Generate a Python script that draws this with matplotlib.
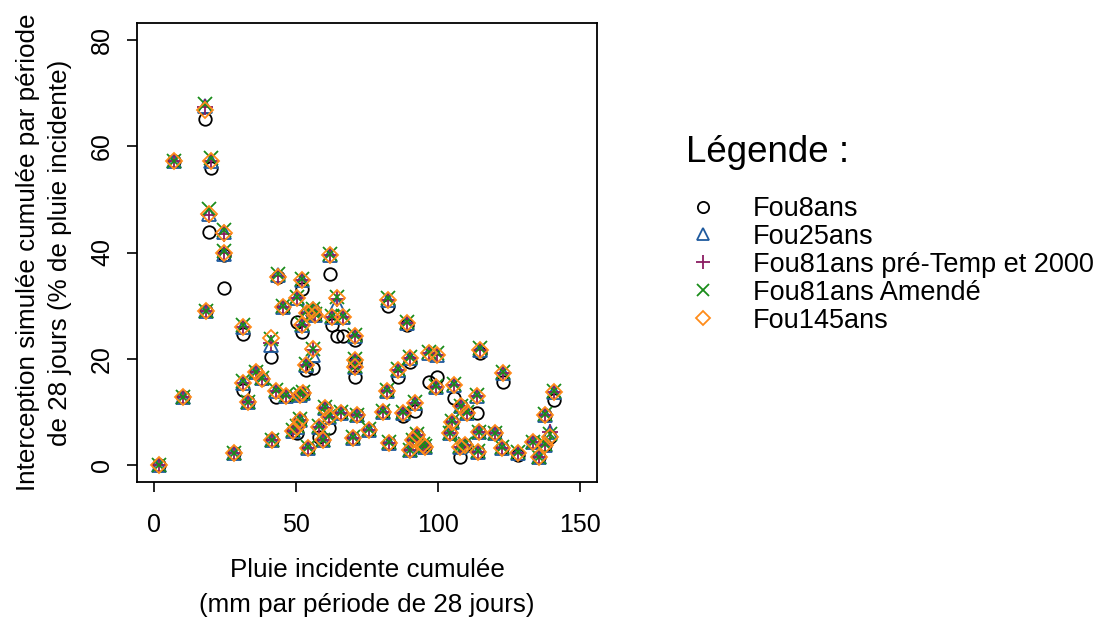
import matplotlib
matplotlib.use("Agg")
import matplotlib.pyplot as plt
from matplotlib.lines import Line2D

plt.rcParams['font.family'] = ['Liberation Sans', 'DejaVu Sans']

# données
pluie = [1.8, 7.0, 10.2, 18.0, 18.3, 19.4, 20.1, 24.6, 24.6, 28.2,
         31.3, 31.3, 33.1, 35.9, 38.0, 41.2, 41.5, 43.0, 43.7, 45.4,
         46.5, 48.9, 50.3, 50.3, 51.4, 51.4, 52.1, 52.1, 52.5, 53.5,
         53.9, 54.2, 56.0, 56.0, 56.7, 58.1, 59.5, 60.2, 61.6, 62.0,
         62.7, 64.4, 65.8, 66.5, 70.1, 70.6, 70.8, 70.8, 71.5, 75.7,
         80.6, 82.0, 82.4, 82.7, 85.9, 87.7, 89.1, 90.1, 90.1, 91.2,
         91.9, 92.6, 94.7, 95.4, 97.0, 99.3, 99.6, 104.2, 104.9, 105.6,
         107.7, 108.1, 109.5, 110.2, 113.7, 114.1, 114.4, 114.8, 120.1, 122.5,
         122.9, 128.2, 133.5, 135.6, 137.7, 137.7, 139.4, 140.8]

fou8 = [0.0, 57.2, 12.8, 65.1, 28.9, 43.8, 56.0, 33.4, 39.6, 2.3,
        24.7, 14.2, 11.9, 17.5, 16.2, 20.4, 4.7, 12.8, 35.3, 29.8,
        13.0, 6.4, 27.0, 6.0, 8.5, 13.2, 33.2, 25.1, 13.6, 17.9,
        28.7, 3.2, 29.2, 18.3, 28.3, 5.3, 4.7, 10.8, 7.0, 36.0,
        26.4, 24.3, 9.8, 24.3, 5.1, 16.6, 19.4, 23.6, 9.4, 6.6,
        10.0, 14.0, 30.0, 4.2, 16.6, 9.2, 26.3, 2.8, 19.4, 4.7,
        10.2, 5.7, 3.8, 3.4, 15.7, 14.7, 16.6, 6.0, 8.1, 12.6,
        1.5, 11.1, 3.8, 9.8, 9.8, 2.5, 6.2, 21.1, 6.0, 3.2,
        15.7, 1.9, 4.3, 1.5, 3.8, 9.4, 5.3, 12.3]

fou25 = [0.0, 57.2, 12.8, 67.6, 28.9, 47.3, 57.2, 43.9, 39.8, 2.3,
         25.9, 15.5, 11.9, 17.5, 16.4, 22.6, 4.7, 13.9, 35.8, 29.8,
         13.0, 6.4, 31.5, 7.2, 8.5, 13.2, 34.9, 26.4, 13.6, 18.9,
         28.7, 3.2, 29.4, 20.8, 28.3, 7.2, 4.7, 10.8, 9.1, 39.6,
         27.9, 30.4, 9.8, 27.9, 5.1, 18.5, 19.8, 24.3, 9.4, 6.6,
         10.0, 14.0, 31.1, 4.2, 17.9, 9.8, 26.8, 2.8, 20.2, 4.7,
         11.7, 5.7, 3.8, 3.4, 21.1, 14.7, 20.8, 6.0, 8.1, 15.1,
         3.4, 11.1, 3.8, 9.8, 13.0, 2.5, 6.2, 21.7, 6.0, 3.2,
         17.4, 2.3, 4.3, 1.5, 3.8, 9.4, 6.2, 13.8]

fou81_pre = [0.0, 57.2, 12.8, 67.3, 28.9, 47.0, 57.2, 43.4, 40.0, 2.3,
             26.0, 15.5, 11.9, 17.5, 16.2, 23.0, 4.7, 14.0, 35.5, 29.8,
             13.0, 6.4, 31.5, 7.2, 8.5, 13.2, 34.9, 26.4, 13.6, 18.9,
             28.7, 3.2, 29.2, 21.6, 28.3, 7.2, 4.7, 10.8, 9.1, 39.6,
             27.9, 31.2, 9.8, 27.9, 5.1, 18.5, 19.8, 24.3, 9.4, 6.6,
             10.0, 14.0, 31.1, 4.2, 17.9, 9.8, 26.8, 2.8, 20.2, 4.7,
             11.7, 5.7, 3.8, 3.4, 21.1, 14.7, 20.8, 6.0, 8.1, 15.1,
             3.4, 11.1, 3.8, 9.8, 13.0, 2.5, 6.2, 21.7, 6.0, 3.2,
             17.4, 2.3, 4.3, 1.5, 3.8, 9.4, 6.2, 13.8]

fou81_amende = [0.0, 57.2, 12.8, 68.0, 28.9, 48.2, 57.8, 44.2, 40.3, 2.3,
                26.3, 15.8, 11.9, 17.6, 16.4, 23.8, 4.7, 14.2, 36.0, 29.9,
                13.1, 6.5, 31.7, 7.3, 8.6, 13.3, 35.1, 26.6, 13.7, 19.1,
                28.9, 3.3, 29.4, 21.9, 28.5, 7.3, 4.8, 10.9, 9.2, 39.8,
                28.1, 31.7, 9.9, 28.1, 5.2, 18.6, 20.0, 24.5, 9.5, 6.7,
                10.1, 14.2, 31.4, 4.3, 18.1, 9.9, 27.0, 2.9, 20.4, 4.8,
                11.8, 5.8, 3.9, 3.5, 21.3, 14.8, 21.0, 6.1, 8.2, 15.3,
                3.5, 11.2, 3.9, 9.9, 13.1, 2.6, 6.3, 22.0, 6.1, 3.3,
                17.6, 2.4, 4.4, 1.6, 3.9, 9.6, 5.8, 14.0]

fou145 = [0.0, 57.2, 12.8, 66.8, 28.9, 47.2, 57.2, 43.6, 40.0, 2.3,
          26.0, 15.5, 11.9, 17.5, 16.2, 24.0, 4.7, 14.0, 35.3, 29.8,
          13.0, 6.4, 31.5, 7.2, 8.5, 13.2, 34.9, 26.4, 13.6, 18.9,
          28.7, 3.2, 29.2, 21.9, 28.3, 7.2, 4.7, 10.8, 9.1, 39.6,
          27.9, 31.5, 9.8, 27.9, 5.1, 18.5, 19.8, 24.3, 9.4, 6.6,
          10.0, 14.0, 31.1, 4.2, 17.9, 9.8, 26.8, 2.8, 20.2, 4.7,
          11.7, 5.7, 3.8, 3.4, 21.1, 14.7, 20.8, 6.0, 8.1, 15.1,
          3.4, 11.1, 3.8, 9.8, 13.0, 2.5, 6.2, 21.7, 6.0, 3.2,
          17.4, 2.3, 4.3, 1.5, 3.8, 9.4, 5.3, 13.8]

noms = ["Fou8ans", "Fou25ans", "Fou81ans pré-Temp et 2000",
        "Fou81ans Amendé", "Fou145ans"]
valeurs = [fou8, fou25, fou81_pre, fou81_amende, fou145]
marqueurs = ['o', '^', '+', 'x', 'D']
couleurs = ['black', '#1f5a9e', '#8b1c62', '#1a8c1a', '#ff8c1a']
tailles = [9.0, 9.5, 11.0, 10.0, 7.8]

fs = 18

fig = plt.figure(figsize=(11.06, 6.19), dpi=100)
ax = fig.add_axes([137/1106, 1 - 482/619, 460/1106, 459/619])

handles = []
for ys, mk, col, ms in zip(valeurs, marqueurs, couleurs, tailles):
    ax.plot(pluie, ys, linestyle='none', marker=mk, markersize=ms,
            markerfacecolor='none', markeredgecolor=col, markeredgewidth=1.3)
    handles.append(Line2D([], [], linestyle='none', marker=mk, markersize=ms * 0.9,
                          markerfacecolor='none', markeredgecolor=col,
                          markeredgewidth=1.3))

ax.set_xlim(-6, 156)
ax.set_ylim(-3.2, 83.2)
ax.set_xticks([0, 50, 100, 150])
ax.set_yticks([0, 20, 40, 60, 80])
for s in ax.spines.values():
    s.set_linewidth(1.3)
ax.tick_params(direction='out', length=7, width=1.2, labelsize=fs)
ax.tick_params(axis='x', pad=15)
ax.tick_params(axis='y', pad=9.5)
plt.setp(ax.get_yticklabels(), rotation=90, va='center')

ax.set_xlabel("Pluie incidente cumulée\n(mm par période de 28 jours)",
              fontsize=18.7, linespacing=1.55, labelpad=15.5)
ax.set_ylabel("Interception simulée cumulée par période\nde 28 jours (% de pluie incidente)",
              fontsize=18.7, linespacing=1.4, labelpad=13)

fig.text(686/1106, 1 - 162/619, "Légende :", fontsize=26.5, ha='left', va='baseline')
fig.legend(handles, noms, loc='upper left',
           bbox_to_anchor=(686/1106, 1 - 196/619), frameon=False,
           fontsize=19.5, handlelength=1.26, handletextpad=1.22,
           labelspacing=0.07, borderpad=0, borderaxespad=0)

fig.savefig("out.png", dpi=100)
